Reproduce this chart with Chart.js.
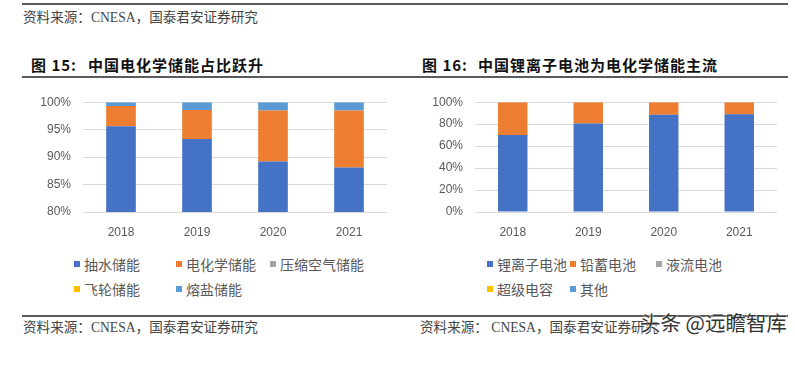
<!DOCTYPE html>
<html>
<head>
<meta charset="utf-8">
<script src="https://cdn.jsdelivr.net/npm/chart.js@4.4.0/dist/chart.umd.min.js"></script>
<style>
    body { margin: 0; width: 795px; height: 369px; background: #fff; position: relative; overflow: hidden; font-family: "Noto Sans CJK SC", sans-serif; }
    .abs { position: absolute; white-space: nowrap; }
    .rule { position: absolute; left: 22px; width: 766px; height: 2px; background: #5a5a5a; }
    .src { font-family: "Liberation Serif", "Noto Sans CJK SC", serif; font-size: 13.6px; line-height: 14px; color: #444; }
    .title { font-size: 15px; line-height: 16px; font-weight: bold; color: #111; letter-spacing: 1px; }
    .leg { position: absolute; font-size: 14px; line-height: 16px; color: #595959; display: flex; align-items: center; white-space: nowrap; }
    .leg i { display: inline-block; width: 6px; height: 6px; margin-right: 4px; }
    .mark { font-size: 20.5px; line-height: 22px; color: #333; text-shadow: 0 0 2px #fff, 0 0 2px #fff; }
    canvas { position: absolute; }
</style>
</head>
<body>

<div class="rule" style="top:3px"></div>
<div class="abs src" style="left:23px;top:11px">资料来源：CNESA，国泰君安证券研究</div>

<div class="abs title" style="left:31px;top:57px">图 15:</div>
<div class="abs title" style="left:88px;top:57px">中国电化学储能占比跃升</div>
<div class="abs title" style="left:422px;top:57px">图 16:</div>
<div class="abs title" style="left:478px;top:57px">中国锂离子电池为电化学储能主流</div>
<div class="rule" style="top:76px"></div>

<canvas id="storageChart" width="375" height="167" style="left:20px;top:83px"></canvas>
<canvas id="batteryChart" width="395" height="167" style="left:400px;top:83px"></canvas>
<div id="storageLegend"></div>
<div id="batteryLegend"></div>

<div class="rule" style="top:315px"></div>
<div class="abs src" style="left:23px;top:321px">资料来源：CNESA，国泰君安证券研究</div>
<div class="abs src" style="left:420px;top:321px">资料来源：&nbsp;CNESA，国泰君安证券研究</div>
<div class="abs mark" style="left:640px;top:311px">头条 @远瞻智库</div>

<script>
// Data (percent share)
const years = ['2018', '2019', '2020', '2021'];

const storageLabels = ['抽水储能', '电化学储能', '压缩空气储能', '飞轮储能', '熔盐储能'];
const pumpedHydro = [95.6, 93.3, 89.2, 88.1];
const electrochemical = [3.7, 5.3, 9.3, 10.4];
const compressedAir = [0, 0, 0, 0];
const flywheel = [0, 0, 0, 0];
const moltenSalt = [0.7, 1.4, 1.5, 1.5];
const storageTicks = [80, 85, 90, 95, 100];

const batteryLabels = ['锂离子电池', '铅蓄电池', '液流电池', '超级电容', '其他'];
const lithiumIon = [70.2, 80.6, 88.5, 89.0];
const leadAcid = [29.8, 19.4, 11.5, 11.0];
const flowBattery = [0, 0, 0, 0];
const superCap = [0, 0, 0, 0];
const otherBattery = [0, 0, 0, 0];
const batteryTicks = [0, 20, 40, 60, 80, 100];

const colors = ['#4472C4', '#ED7D31', '#A5A5A5', '#FFC000', '#5B9BD5'];

function makeDatasets(labels, series) {
    return series.map(function(values, i) {
        return {
            label: labels[i],
            data: values,
            backgroundColor: colors[i],
            borderWidth: 0,
            barPercentage: 0.39,
            categoryPercentage: 1
        };
    });
}

function buildChart(id, labels, series, ticks, yWidth, padRight) {
    const tickFont = { family: '"Liberation Sans", Arial, sans-serif', size: 12 };
    new Chart(document.getElementById(id).getContext('2d'), {
        type: 'bar',
        data: { labels: years, datasets: makeDatasets(labels, series) },
        options: {
            responsive: false,
            animation: false,
            layout: { padding: { top: 4, right: padRight, bottom: 0, left: 0 } },
            plugins: { legend: { display: false }, tooltip: { enabled: false } },
            scales: {
                x: {
                    stacked: true,
                    grid: { display: false },
                    border: { display: false },
                    ticks: { color: '#595959', font: tickFont, padding: 5 },
                    afterFit: function(scale) { scale.height = 38; }
                },
                y: {
                    stacked: true,
                    min: ticks[0],
                    max: ticks[ticks.length - 1],
                    grid: { color: '#d9d9d9', drawTicks: false },
                    border: { display: false },
                    afterBuildTicks: function(scale) {
                        scale.ticks = ticks.map(function(v) { return { value: v }; });
                    },
                    ticks: {
                        color: '#595959',
                        font: tickFont,
                        padding: 12,
                        callback: function(v) { return v + '%'; }
                    },
                    afterFit: function(scale) { scale.width = yWidth; }
                }
            }
        }
    });
}

// HTML legend built from the same labels / colours
function buildLegend(id, labels, cols, rowTops) {
    const box = document.getElementById(id);
    labels.forEach(function(label, i) {
        const item = document.createElement('div');
        item.className = 'leg';
        item.style.left = cols[i % 3] + 'px';
        item.style.top = rowTops[Math.floor(i / 3)] + 'px';
        item.innerHTML = '<i style="background:' + colors[i] + '"></i>' + label;
        box.appendChild(item);
    });
}

document.addEventListener('DOMContentLoaded', function() {
    buildChart('storageChart', storageLabels,
        [pumpedHydro, electrochemical, compressedAir, flywheel, moltenSalt], storageTicks, 63, 8);
    buildChart('batteryChart', batteryLabels,
        [lithiumIon, leadAcid, flowBattery, superCap, otherBattery], batteryTicks, 75, 18);

    buildLegend('storageLegend', storageLabels, [74, 176, 270], [256, 281]);
    buildLegend('batteryLegend', batteryLabels, [487, 570, 656], [256, 281]);
});
</script>
</body>
</html>
